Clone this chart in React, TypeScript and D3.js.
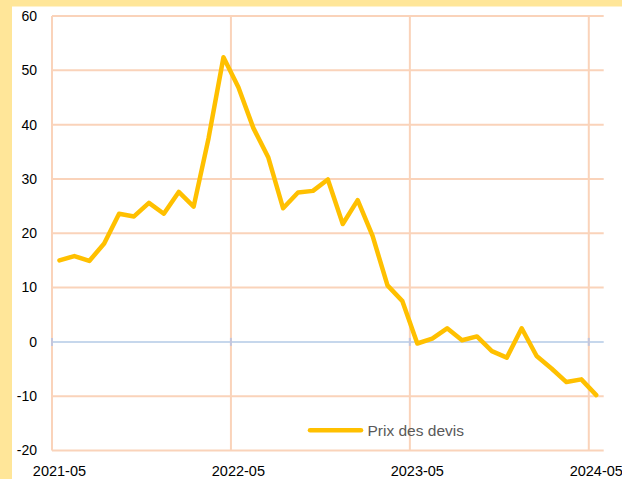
import React, { useEffect, useRef } from "react";
import * as d3 from "d3";

// Monthly categories, 2021-05 through 2024-05
const months: string[] = [
  "2021-05", "2021-06", "2021-07", "2021-08", "2021-09", "2021-10", "2021-11", "2021-12",
  "2022-01", "2022-02", "2022-03", "2022-04", "2022-05", "2022-06", "2022-07", "2022-08",
  "2022-09", "2022-10", "2022-11", "2022-12", "2023-01", "2023-02", "2023-03", "2023-04",
  "2023-05", "2023-06", "2023-07", "2023-08", "2023-09", "2023-10", "2023-11", "2023-12",
  "2024-01", "2024-02", "2024-03", "2024-04", "2024-05",
];

// Balance of opinion on quoted prices
const prixDevis: number[] = [
  15.0, 15.8, 14.9, 18.1, 23.6, 23.1, 25.6, 23.6, 27.6, 24.9, 37.5, 52.4, 46.9,
  39.4, 34.0, 24.6, 27.5, 27.8, 29.9, 21.7, 26.1, 19.5, 10.4, 7.5, -0.3, 0.6,
  2.5, 0.3, 1.0, -1.7, -2.9, 2.5, -2.6, -4.9, -7.4, -6.9, -9.8,
];

const yTicks: number[] = [-20, -10, 0, 10, 20, 30, 40, 50, 60];
const xLabels: string[] = ["2021-05", "2022-05", "2023-05", "2024-05"];
const seriesName = "Prix des devis";

const W = 622;
const H = 479;
const left = 52;
const right = 603.7;
const top = 16;
const bottom = 450.5;

const GRID = "#fad3ba";
const ZERO = "#c6d7ec";
const LINE = "#ffc000";
const FONT = "'Liberation Sans', Arial, sans-serif";

export default function App() {
  const ref = useRef<SVGSVGElement | null>(null);

  useEffect(() => {
    document.body.style.margin = "0";
    const svg = d3.select(ref.current);
    svg.selectAll("*").remove();

    const x = d3.scaleBand<string>().domain(months).range([left, right]);
    const y = d3.scaleLinear().domain([-20, 60]).range([bottom, top]);
    const cx = (m: string) => (x(m) as number) + x.bandwidth() / 2;

    // Frame background
    svg.append("rect").attr("width", W).attr("height", H).attr("fill", "#ffffff");
    svg.append("rect").attr("x", 0).attr("y", 0).attr("width", W).attr("height", 6.5).attr("fill", "#ffe699");
    svg.append("rect").attr("x", 0).attr("y", 0).attr("width", 12).attr("height", H).attr("fill", "#ffe699");

    // Horizontal gridlines
    svg
      .append("g")
      .selectAll("line")
      .data(yTicks.filter((t) => t !== 0))
      .join("line")
      .attr("x1", left)
      .attr("x2", right)
      .attr("y1", (d) => y(d))
      .attr("y2", (d) => y(d))
      .attr("stroke", GRID)
      .attr("stroke-width", 2);

    // Vertical gridlines at each year
    svg
      .append("g")
      .selectAll("line")
      .data(xLabels)
      .join("line")
      .attr("x1", (d) => x(d) as number)
      .attr("x2", (d) => x(d) as number)
      .attr("y1", top)
      .attr("y2", bottom)
      .attr("stroke", GRID)
      .attr("stroke-width", 2);

    // Zero axis with tick marks
    svg
      .append("line")
      .attr("x1", left)
      .attr("x2", right)
      .attr("y1", y(0))
      .attr("y2", y(0))
      .attr("stroke", ZERO)
      .attr("stroke-width", 2);
    svg
      .append("g")
      .selectAll("line")
      .data(xLabels)
      .join("line")
      .attr("x1", (d) => x(d) as number)
      .attr("x2", (d) => x(d) as number)
      .attr("y1", y(0) - 4)
      .attr("y2", y(0) + 4)
      .attr("stroke", "#c4c6dc")
      .attr("stroke-width", 2);

    // Y tick labels
    svg
      .append("g")
      .selectAll("text")
      .data(yTicks)
      .join("text")
      .attr("x", 37)
      .attr("y", (d) => y(d))
      .attr("dy", "0.35em")
      .attr("text-anchor", "end")
      .attr("font-family", FONT)
      .attr("font-size", 14)
      .attr("fill", "#000")
      .text((d) => String(d));

    // X tick labels
    svg
      .append("g")
      .selectAll("text")
      .data(xLabels)
      .join("text")
      .attr("x", (d) => cx(d))
      .attr("y", 476)
      .attr("text-anchor", "middle")
      .attr("font-family", FONT)
      .attr("font-size", 14.5)
      .attr("fill", "#000")
      .text((d) => d);

    // Series line
    const line = d3
      .line<number>()
      .x((_, i) => cx(months[i]))
      .y((d) => y(d))
      .curve(d3.curveLinear);

    svg
      .append("path")
      .datum(prixDevis)
      .attr("d", line)
      .attr("fill", "none")
      .attr("stroke", LINE)
      .attr("stroke-width", 4.5)
      .attr("stroke-linejoin", "round")
      .attr("stroke-linecap", "round");

    // Legend
    const lg = svg.append("g");
    lg.append("line")
      .attr("x1", 310)
      .attr("x2", 361)
      .attr("y1", 430.3)
      .attr("y2", 430.3)
      .attr("stroke", LINE)
      .attr("stroke-width", 4.5)
      .attr("stroke-linecap", "round");
    lg.append("text")
      .attr("x", 367.5)
      .attr("y", 435.8)
      .attr("font-family", FONT)
      .attr("font-size", 15.5)
      .attr("fill", "#595959")
      .text(seriesName);
  }, []);

  return (
    <div style={{ position: "absolute", left: 0, top: 0 }}>
      <svg ref={ref} width={W} height={H} style={{ display: "block" }} />
    </div>
  );
}
